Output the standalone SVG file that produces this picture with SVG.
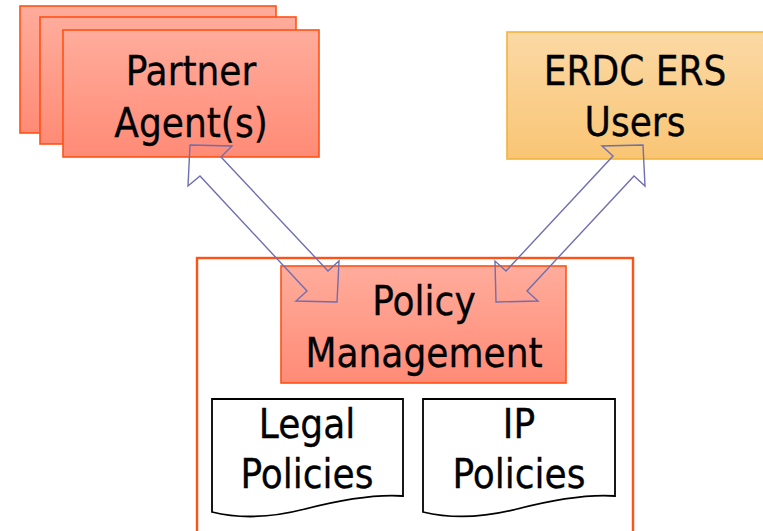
<svg xmlns="http://www.w3.org/2000/svg" width="763" height="531" viewBox="0 0 763 531">
<defs>
<linearGradient id="gRed" x1="0" y1="0" x2="0" y2="1">
<stop offset="0" stop-color="#FFAC9C"/>
<stop offset="1" stop-color="#FF8B76"/>
</linearGradient>
<linearGradient id="gGold" x1="0" y1="0" x2="0" y2="1">
<stop offset="0" stop-color="#FBD9A5"/>
<stop offset="1" stop-color="#F9C574"/>
</linearGradient>
</defs>
<style>
.red{fill:url(#gRed);stroke:#FF5214;stroke-width:1.6}
.gold{fill:url(#gGold);stroke:#F2B33D;stroke-width:1.6}
.outer{fill:#FFFFFF;stroke:#FF5214;stroke-width:2.4}
.doc{fill:#FFFFFF;stroke:#000000;stroke-width:1.8;stroke-linejoin:miter}
.arrow{fill:none;stroke:#6E6EB0;stroke-width:1.4;stroke-linejoin:miter}
text{font-family:"DejaVu Sans Condensed","DejaVu Sans","Liberation Sans",sans-serif;font-stretch:condensed;font-size:40px;fill:#000000;stroke:#000000;stroke-width:0.3;text-anchor:middle}
</style>
<rect width="763" height="531" fill="#FFFFFF"/>
<g id="policy-container">
<rect class="outer" x="197" y="258" width="436" height="290"/>
</g>
<g id="partner-agents">
<rect class="red" x="20" y="6" width="256" height="127"/>
<rect class="red" x="40" y="17" width="256" height="127"/>
<rect class="red" x="63" y="30" width="256" height="127"/>
<text x="191" y="85">Partner</text>
<text x="191" y="137">Agent(s)</text>
</g>
<g id="erdc-users">
<rect class="gold" x="507" y="32" width="262" height="127"/>
<text x="635" y="85">ERDC ERS</text>
<text x="635" y="136">Users</text>
</g>
<g id="policy-management">
<rect class="red" x="281" y="266" width="285" height="117"/>
<text x="424" y="315">Policy</text>
<text x="424" y="367">Management</text>
</g>
<g id="legal-policies">
<path class="doc" d="M212,399 H403 V496 C375,494 340,500 305,509 C270,518 240,519 212,512 Z"/>
<text x="307" y="438">Legal</text>
<text x="307" y="488">Policies</text>
</g>
<g id="ip-policies">
<path class="doc" d="M423,399 H615 V496 C587,494 552,500 517,509 C482,518 452,519 423,512 Z"/>
<text x="519" y="438">IP</text>
<text x="519" y="488">Policies</text>
</g>
<g id="connectors">
<polygon class="arrow" points="190,145 232,146 221,157 328,271 339,261 337,302 296,301 307,291 200,176 188,186"/>
<polygon class="arrow" points="643,145 645,186 634,176 527,291 538,301 496,302 495,261 506,271 613,156 602,146"/>
</g>
</svg>
